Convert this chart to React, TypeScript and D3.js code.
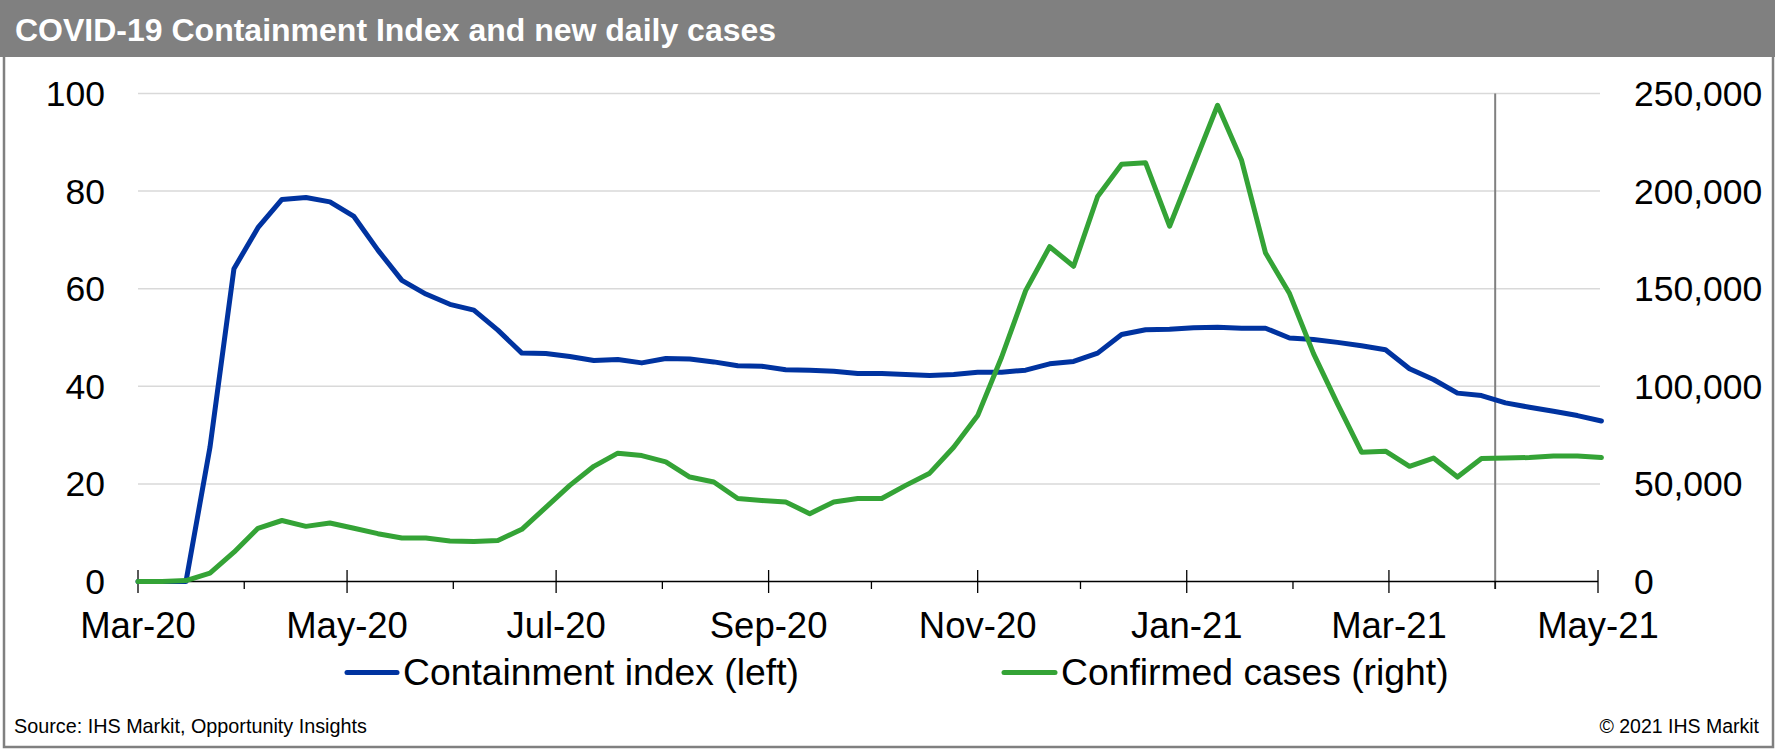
import React from 'react';
import * as d3 from 'd3';

// weekly observations, first week starting 1 Mar 2020
const firstWeek = new Date(2020, 2, 1);
const containmentIndex = [
  0, 0, 0, 27.5, 64.1, 72.5, 78.3, 78.7, 77.8, 74.8, 67.9, 61.7, 58.9, 56.8,
  55.6, 51.5, 46.8, 46.7, 46.1, 45.3, 45.5, 44.8, 45.7, 45.6, 45.0, 44.2, 44.1,
  43.4, 43.3, 43.1, 42.6, 42.6, 42.4, 42.2, 42.4, 42.9, 42.9, 43.3, 44.6, 45.1,
  46.8, 50.6, 51.6, 51.7, 52.0, 52.1, 51.9, 51.9, 49.9, 49.6, 49.0, 48.3, 47.5,
  43.6, 41.4, 38.6, 38.1, 36.6, 35.7, 34.9, 34.0, 32.9,
];
const confirmedCases = [
  0, 0, 500, 4250, 15000, 27250, 31250, 28250, 30000, 27250, 24500, 22250,
  22250, 20750, 20500, 21000, 26750, 38000, 49250, 59000, 65750, 64500, 61250,
  53500, 51000, 42500, 41500, 40750, 34750, 40750, 42500, 42500, 49250, 55500,
  68750, 85000, 115000, 149000, 171500, 161500, 197250, 213750, 214500, 182000,
  213000, 244000, 215750, 168250, 147500, 116750, 91000, 66250, 66750, 59000,
  63250, 53500, 63000, 63250, 63500, 64250, 64250, 63500,
];
const leftTicks = [0, 20, 40, 60, 80, 100];
const rightTicks = [0, 50000, 100000, 150000, 200000, 250000];
const seriesNames = ['Containment index (left)', 'Confirmed cases (right)'];
const markerDate = new Date(2021, 3, 1);

const W = 1775;
const H = 749;
const FONT = 'Liberation Sans, Arial, Helvetica, sans-serif';
const BLUE = '#0033a0';
const GREEN = '#34a336';

export default function App() {
  const dates = containmentIndex.map((_, i) => d3.timeDay.offset(firstWeek, i * 7));

  const x = d3
    .scaleTime()
    .domain([new Date(2020, 2, 1), new Date(2021, 4, 1)])
    .range([138, 1598]);
  const yLeft = d3.scaleLinear().domain([0, 100]).range([581.5, 93.5]);
  const yRight = d3.scaleLinear().domain([0, 250000]).range([581.5, 93.5]);

  const months = x.ticks(d3.timeMonth.every(1));
  const isMajor = (d: Date) => (d.getFullYear() * 12 + d.getMonth() - 2) % 2 === 0;
  const fmtMonth = d3.timeFormat('%b-%y');
  const fmtNum = d3.format(',');

  const blueLine = d3
    .line<number>()
    .x((_, i) => x(dates[i]))
    .y((d) => yLeft(d))(containmentIndex);
  const greenLine = d3
    .line<number>()
    .x((_, i) => x(dates[i]))
    .y((d) => yRight(d))(confirmedCases);

  return (
    <div style={{ position: 'absolute', left: 0, top: 0 }}>
      <svg width={W} height={H} style={{ display: 'block', fontFamily: FONT }}>
        <rect x={0} y={0} width={W} height={H} fill='#fff' />
        {/* frame + title bar */}
        <rect x={4} y={40} width={W - 6} height={H - 42} fill='none' stroke='#808080' strokeWidth={2.5} />
        <rect x={0} y={0} width={W} height={57} fill='#808080' />
        <text x={15} y={41} fill='#fff' fontWeight='bold' fontSize={32}>
          COVID-19 Containment Index and new daily cases
        </text>

        {/* grid */}
        {leftTicks.slice(1).map((t) => (
          <line key={t} x1={138} x2={1600} y1={yLeft(t)} y2={yLeft(t)} stroke='#d9d9d9' strokeWidth={1.5} />
        ))}
        <line x1={x(markerDate)} x2={x(markerDate)} y1={93.5} y2={589} stroke='#808080' strokeWidth={2} />

        {/* left axis labels */}
        {leftTicks.map((t) => (
          <text key={t} x={105} y={yLeft(t) + 12.5} textAnchor='end' fontSize={35.5} fill='#000'>
            {t}
          </text>
        ))}
        {/* right axis labels */}
        {rightTicks.map((t) => (
          <text key={t} x={1634} y={yRight(t) + 12.5} fontSize={35.5} fill='#000'>
            {fmtNum(t)}
          </text>
        ))}

        {/* x axis */}
        <line x1={138} x2={1598} y1={581.5} y2={581.5} stroke='#000' strokeWidth={1.5} />
        {months.map((m) =>
          isMajor(m) ? (
            <g key={+m}>
              <line x1={x(m)} x2={x(m)} y1={570} y2={593} stroke='#000' strokeWidth={1.3} />
              <text x={x(m)} y={638} textAnchor='middle' fontSize={36.5} fill='#000'>
                {fmtMonth(m)}
              </text>
            </g>
          ) : (
            <line key={+m} x1={x(m)} x2={x(m)} y1={581.5} y2={589} stroke='#000' strokeWidth={1.3} />
          )
        )}

        {/* series */}
        <path d={blueLine ?? ''} fill='none' stroke={BLUE} strokeWidth={5} strokeLinejoin='round' strokeLinecap='round' />
        <path d={greenLine ?? ''} fill='none' stroke={GREEN} strokeWidth={5} strokeLinejoin='round' strokeLinecap='round' />

        {/* legend */}
        <line x1={347} x2={397} y1={672.5} y2={672.5} stroke={BLUE} strokeWidth={5} strokeLinecap='round' />
        <text x={403} y={685} fontSize={37.3} fill='#000'>
          {seriesNames[0]}
        </text>
        <line x1={1004} x2={1055} y1={672.5} y2={672.5} stroke={GREEN} strokeWidth={5} strokeLinecap='round' />
        <text x={1061} y={685} fontSize={37.3} fill='#000'>
          {seriesNames[1]}
        </text>

        {/* footer */}
        <text x={14} y={733} fontSize={19.8} fill='#000'>
          Source: IHS Markit, Opportunity Insights
        </text>
        <text x={1759} y={733} textAnchor='end' fontSize={19.5} fill='#000'>
          © 2021 IHS Markit
        </text>
      </svg>
    </div>
  );
}
